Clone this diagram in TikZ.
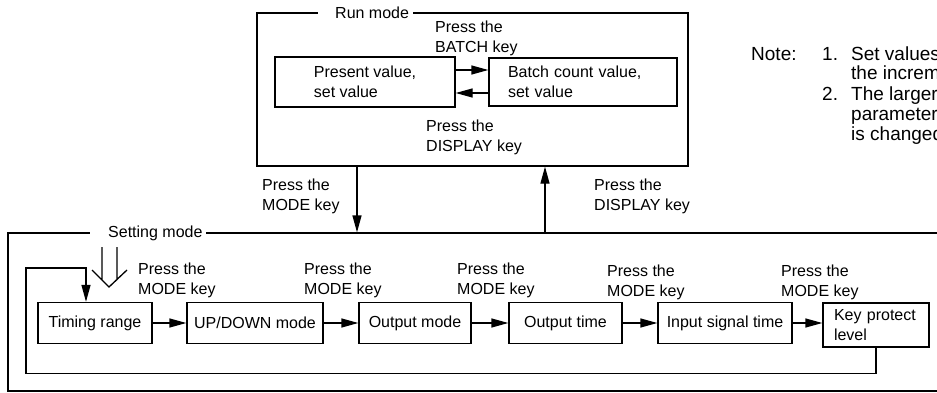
\documentclass[tikz,border=0pt]{standalone}
\usepackage{fontspec}
\setmainfont{Liberation Sans}
\usetikzlibrary{arrows.meta}
\begin{document}
\begin{tikzpicture}[x=1pt,y=-1pt,
  every node/.style={font=\fontsize{16}{20}\selectfont},
  ln/.style={line width=1.3pt},
  arr/.style={ln,-{Triangle[length=17pt,width=9pt]}},
  box/.style={draw,ln,inner sep=0pt,align=center},
  lbl/.style={anchor=west,inner sep=0pt,align=left},
  ttl/.style={anchor=west,fill=white,inner xsep=4pt,inner ysep=1pt},
  bl/.style={anchor=base west,inner sep=0pt,font=\fontsize{19}{20}\selectfont}]
\useasboundingbox (0,0) rectangle (937,393);
\clip (0,0) rectangle (937,393);
% Run mode frame
\node[box,minimum width=431pt,minimum height=153pt] (run) at (472.5,89.5) {};
\node[ttl] (runt) at (318,13) {\hspace*{13pt}Run mode};
\node[box,minimum width=180pt,minimum height=50pt,align=left] (pv) at (365,82) {Present value,\\set value};
\node[box,text width=150pt,inner xsep=19pt,minimum height=48pt,align=left] (bc) at (583,82) {Batch count value,\\set value};
\draw[arr] (pv.east |- 0,70) -- (bc.west |- 0,70);
\draw[arr] (bc.west |- 0,93) -- (pv.east |- 0,93);
\node[lbl] (lb) at (435,38) {Press the\\BATCH key};
\node[lbl] (ld) at (426,137) {Press the\\DISPLAY key};
% Setting mode frame
\node[box,minimum width=952pt,minimum height=158pt] (set) at (484,312) {};
\node[ttl] (sett) at (90,233) {\hspace*{14pt}Setting mode};
\draw[arr] (run.south -| 357,0) -- (set.north -| 357,0);
\draw[arr] (set.north -| 545,0) -- (run.south -| 545,0);
\node[lbl] (lm) at (262,196) {Press the\\MODE key};
\node[lbl] (ld2) at (594,196) {Press the\\DISPLAY key};
% row
\node[box,minimum width=114pt,minimum height=41pt] (tr) at (95,323) {Timing range};
\node[box,minimum width=136pt,minimum height=41pt] (ud) at (255,323) {UP/DOWN mode};
\node[box,minimum width=112pt,minimum height=41pt] (om) at (415,323) {Output mode};
\node[box,minimum width=113pt,minimum height=41pt] (ot) at (565.5,323) {Output time};
\node[box,minimum width=134pt,minimum height=41pt] (ist) at (725,323) {Input signal time};
\node[box,text width=84pt,inner xsep=11pt,minimum height=44pt,align=left] (kp) at (876,325) {Key protect\\level};
\draw[arr] (tr) -- (ud);
\draw[arr] (ud) -- (om);
\draw[arr] (om) -- (ot);
\draw[arr] (ot) -- (ist);
\draw[arr] (ist.east) -- (ist.east -| kp.west);
\draw[arr] (kp.south) -- ++(0,26) -| (26,268) -- (86,268) -- (tr.north -| 86,0);
% open double arrow
\draw[ln] (102,247) -- (102,280) (117,247) -- (117,280) (92,270) -- (109,287) -- (127,270);
\node[lbl] (m1) at (138,280) {Press the\\MODE key};
\node[lbl] (m2) at (304,280) {Press the\\MODE key};
\node[lbl] (m3) at (457,280) {Press the\\MODE key};
\node[lbl] (m4) at (607,282) {Press the\\MODE key};
\node[lbl] (m5) at (781,282) {Press the\\MODE key};
% note
\node[bl] (note) at (751,61) {Note:};
\node[bl] (n1) at (822,61) {1.};
\node[bl] (t1a) at (851,61) {Set values};
\node[bl] (t1b) at (851,80) {the increment};
\node[bl] (n2) at (822,101) {2.};
\node[bl] (t2a) at (851,101) {The larger};
\node[bl] (t2b) at (851,121) {parameter};
\node[bl] (t2c) at (851,141) {is changed};
\end{tikzpicture}
\end{document}
